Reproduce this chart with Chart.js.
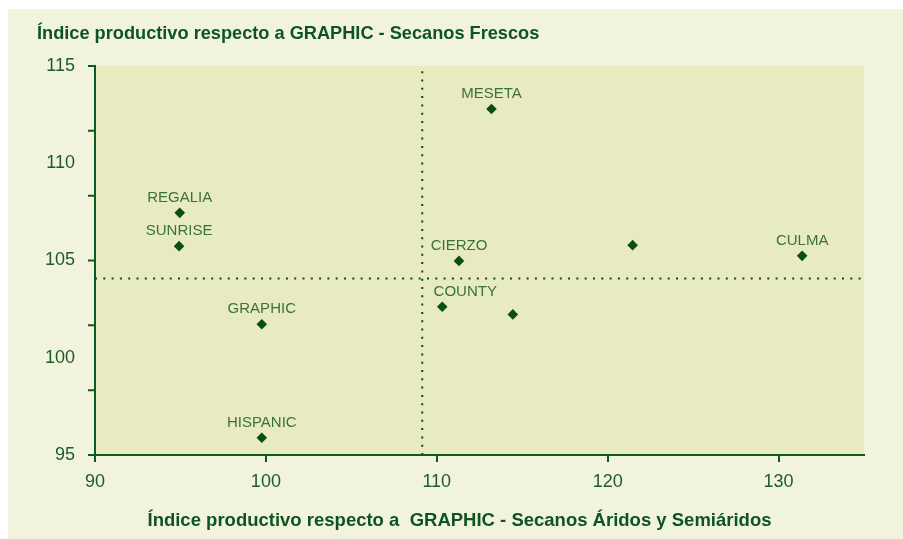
<!DOCTYPE html>
<html>
<head>
<meta charset="utf-8">
<script src="https://cdn.jsdelivr.net/npm/chart.js@4.4.0/dist/chart.umd.min.js"></script>
<style>
  html, body { margin: 0; padding: 0; background: #ffffff; }
  #wrap { position: absolute; left: 8px; top: 9px; width: 895px; height: 530px; background: #f2f3dc; }
</style>
</head>
<body>
<div id="wrap"><canvas id="chart" width="895" height="530"></canvas></div>
<script>
// Variedades (vacío = sin etiqueta)
const varieties = ["REGALIA", "SUNRISE", "GRAPHIC", "HISPANIC", "MESETA", "CIERZO", "", "COUNTY", "", "CULMA"];
// Índice productivo - Secanos Áridos y Semiáridos
const aridValues = [94.96, 94.92, 99.76, 99.76, 113.2, 111.3, 121.46, 110.32, 114.45, 131.38];
// Índice productivo - Secanos Frescos
const frescoValues = [107.45, 105.74, 101.72, 95.89, 112.79, 104.98, 105.79, 102.62, 102.23, 105.24];
// medias (líneas de referencia)
const aridMean = 109.15;
const frescoMean = 104.07;

const xTicks = [90, 100, 110, 120, 130];
const yTicks = [95, 100, 105, 110, 115];

const GREEN = "#0b5a1e";
const FONT = "'Liberation Sans', Arial, Helvetica, sans-serif";

const points = aridValues.map((x, i) => ({ x: x, y: frescoValues[i] }));

const plotDecor = {
  id: "plotDecor",
  beforeDraw(chart) {
    const { ctx, chartArea: a } = chart;
    ctx.save();
    ctx.fillStyle = "#e8eac0";
    ctx.fillRect(a.left, a.top, a.right - a.left, a.bottom - a.top);
    ctx.restore();
  },
  afterDraw(chart) {
    // marcas menores del eje Y (6 divisiones)
    const { ctx, chartArea: a } = chart;
    const ys = chart.scales.y;
    ctx.save();
    ctx.strokeStyle = GREEN;
    ctx.lineWidth = 2;
    ctx.beginPath();
    for (let i = 0; i <= 6; i++) {
      const py = ys.getPixelForValue(ys.min + (i * (ys.max - ys.min)) / 6);
      ctx.moveTo(a.left - 7, py);
      ctx.lineTo(a.left, py);
    }
    ctx.stroke();
    ctx.restore();
  },
  afterDatasetsDraw(chart, args, opts) {
    const { ctx } = chart;
    const meta = chart.getDatasetMeta(0);
    ctx.save();
    ctx.font = "15px " + FONT;
    ctx.fillStyle = "#3a7239";
    ctx.textAlign = "center";
    ctx.textBaseline = "alphabetic";
    meta.data.forEach((el, i) => {
      const name = varieties[i];
      if (!name) return;
      const dx = (opts.shift && opts.shift[name]) || 0;
      ctx.fillText(name, el.x + dx, el.y - 11);
    });
    ctx.restore();
  }
};

const chart = new Chart(document.getElementById("chart"), {
  type: "scatter",
  data: {
    datasets: [
      {
        label: "Variedades",
        data: points,
        pointStyle: "rectRot",
        pointRadius: 5.3,
        pointHoverRadius: 5.3,
        backgroundColor: "#0b4d16",
        borderColor: "#0b4d16",
        borderWidth: 0
      },
      {
        type: "line",
        label: "media X",
        data: [{ x: aridMean, y: 95 }, { x: aridMean, y: 115 }],
        borderColor: "#0b4d16",
        borderWidth: 2,
        borderDash: [2, 6.3],
        pointRadius: 0,
        fill: false
      },
      {
        type: "line",
        label: "media Y",
        data: [{ x: 90, y: frescoMean }, { x: 135, y: frescoMean }],
        borderColor: "#0b4d16",
        borderWidth: 2,
        borderDash: [2, 6.3],
        pointRadius: 0,
        fill: false
      }
    ]
  },
  options: {
    responsive: false,
    animation: false,
    layout: { padding: { left: 29, right: 21, top: 0, bottom: 0 } },
    scales: {
      x: {
        type: "linear",
        position: "bottom",
        min: 90,
        max: 135,
        afterBuildTicks: (s) => { s.ticks = xTicks.map((v) => ({ value: v })); },
        ticks: { padding: 9.5, color: "#1d5c27", font: { size: 18, family: FONT } },
        grid: { display: true, drawOnChartArea: false, drawTicks: true, tickLength: 7, color: GREEN, lineWidth: 2 },
        border: { display: true, color: GREEN, width: 2 },
        afterFit: (s) => { s.height = 40; }
      },
      y: {
        type: "linear",
        position: "left",
        min: 95,
        max: 115,
        afterBuildTicks: (s) => { s.ticks = yTicks.map((v) => ({ value: v })); },
        ticks: { padding: 12, color: "#1d5c27", font: { size: 18, family: FONT } },
        grid: { display: false },
        border: { display: true, color: GREEN, width: 2 },
        afterFit: (s) => { s.width = 58; }
      },
      yr: {
        type: "linear",
        position: "right",
        display: true,
        ticks: { display: false },
        grid: { display: false },
        border: { display: false },
        afterFit: (s) => { s.width = 18; }
      }
    },
    plugins: {
      legend: { display: false },
      tooltip: { enabled: false },
      title: {
        display: true,
        text: "Índice productivo respecto a GRAPHIC - Secanos Frescos",
        align: "start",
        color: "#0d5520",
        font: { size: 18.2, weight: "bold", family: FONT },
        padding: { top: 14.2, bottom: 21 }
      },
      subtitle: {
        display: true,
        position: "bottom",
        text: "Índice productivo respecto a  GRAPHIC - Secanos Áridos y Semiáridos",
        align: "center",
        color: "#0d5520",
        font: { size: 18.5, weight: "bold", family: FONT },
        padding: { top: 14.9, bottom: 6.9 }
      },
      plotDecor: { shift: { COUNTY: 23 } }
    }
  },
  plugins: [plotDecor]
});
</script>
</body>
</html>
